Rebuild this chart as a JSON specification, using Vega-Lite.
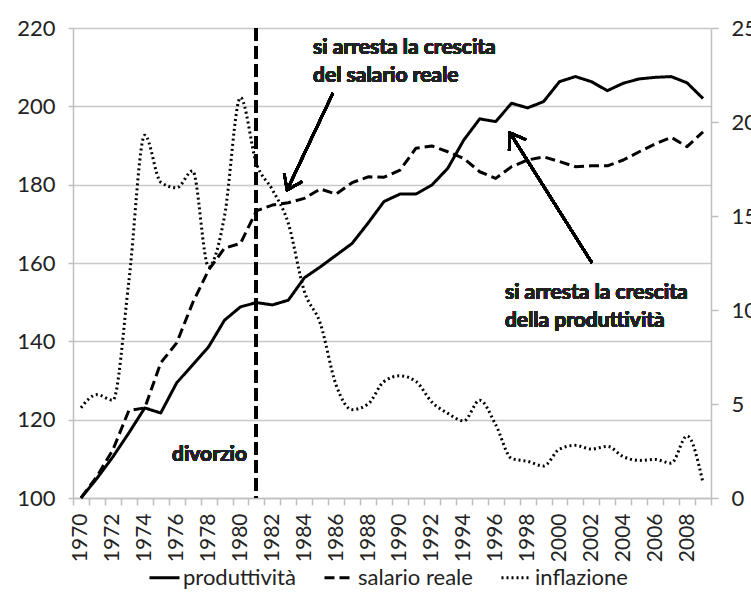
{
  "$schema": "https://vega.github.io/schema/vega-lite/v6.json",
  "width": 638,
  "height": 470,
  "autosize": {"type": "none"},
  "padding": {"left": 73, "top": 28, "right": 40, "bottom": 107},
  "background": "white",
  "config": {
    "view": {"stroke": null},
    "font": "Lato",
    "axis": {"labelFont": "Lato", "labelColor": "#222222", "title": null}
  },
  "datasets": {
    "d": [
      {"anno": 1970, "prod": 100, "sal": 100, "infl": 4.8},
      {"anno": 1971, "prod": 105, "sal": 105.5, "infl": 5.5},
      {"anno": 1972, "prod": 110.5, "sal": 112.3, "infl": 5.2},
      {"anno": 1973, "prod": 116.6, "sal": 122.3, "infl": 11.5},
      {"anno": 1974, "prod": 123, "sal": 123, "infl": 19.3},
      {"anno": 1975, "prod": 121.7, "sal": 134.5, "infl": 16.8},
      {"anno": 1976, "prod": 129.4, "sal": 139.6, "infl": 16.5},
      {"anno": 1977, "prod": 134, "sal": 149.8, "infl": 17.4},
      {"anno": 1978, "prod": 138.6, "sal": 158.2, "infl": 12.3},
      {"anno": 1979, "prod": 145.4, "sal": 163.8, "infl": 15.0},
      {"anno": 1980, "prod": 148.8, "sal": 165, "infl": 21.3},
      {"anno": 1981, "prod": 149.9, "sal": 173.3, "infl": 17.8},
      {"anno": 1982, "prod": 149.3, "sal": 174.8, "infl": 16.4},
      {"anno": 1983, "prod": 150.5, "sal": 175.4, "infl": 14.6},
      {"anno": 1984, "prod": 156.2, "sal": 176.5, "infl": 11.0},
      {"anno": 1985, "prod": 159, "sal": 178.9, "infl": 9.3},
      {"anno": 1986, "prod": 162, "sal": 177.6, "infl": 6.0},
      {"anno": 1987, "prod": 165, "sal": 180.5, "infl": 4.7},
      {"anno": 1988, "prod": 170.2, "sal": 182, "infl": 5.0},
      {"anno": 1989, "prod": 175.7, "sal": 181.9, "infl": 6.2},
      {"anno": 1990, "prod": 177.6, "sal": 183.7, "infl": 6.5},
      {"anno": 1991, "prod": 177.6, "sal": 189.3, "infl": 6.2},
      {"anno": 1992, "prod": 179.9, "sal": 189.9, "infl": 5.1},
      {"anno": 1993, "prod": 184.2, "sal": 188.4, "infl": 4.5},
      {"anno": 1994, "prod": 191.4, "sal": 186.7, "infl": 4.1},
      {"anno": 1995, "prod": 196.8, "sal": 183.3, "infl": 5.2},
      {"anno": 1996, "prod": 196.1, "sal": 181.6, "infl": 3.9},
      {"anno": 1997, "prod": 200.8, "sal": 184.6, "infl": 2.1},
      {"anno": 1998, "prod": 199.6, "sal": 186.3, "infl": 1.95},
      {"anno": 1999, "prod": 201.2, "sal": 187.1, "infl": 1.7},
      {"anno": 2000, "prod": 206.3, "sal": 185.9, "infl": 2.6},
      {"anno": 2001, "prod": 207.6, "sal": 184.6, "infl": 2.8},
      {"anno": 2002, "prod": 206.3, "sal": 184.8, "infl": 2.6},
      {"anno": 2003, "prod": 204, "sal": 184.8, "infl": 2.75},
      {"anno": 2004, "prod": 205.9, "sal": 186.3, "infl": 2.2},
      {"anno": 2005, "prod": 207, "sal": 188.4, "infl": 2.0},
      {"anno": 2006, "prod": 207.4, "sal": 190.4, "infl": 2.05},
      {"anno": 2007, "prod": 207.6, "sal": 192.1, "infl": 1.85},
      {"anno": 2008, "prod": 206, "sal": 189.7, "infl": 3.3},
      {"anno": 2009, "prod": 202, "sal": 193.5, "infl": 0.8}
    ]
  },
  "data": {"name": "d"},
  "layer": [
    {
      "transform": [{"fold": ["prod", "sal"], "as": ["serie", "v"]}],
      "mark": {"type": "line", "strokeJoin": "round"},
      "encoding": {
        "x": {
          "field": "anno", "type": "quantitative", "title": null,
          "scale": {"domain": [1969.5, 2009.5], "nice": false, "zero": false},
          "axis": {
            "orient": "bottom",
            "values": [1970, 1972, 1974, 1976, 1978, 1980, 1982, 1984, 1986, 1988, 1990, 1992, 1994, 1996, 1998, 2000, 2002, 2004, 2006, 2008],
            "format": "d", "labelAngle": -90, "labelAlign": "right", "labelBaseline": "middle",
            "ticks": false, "grid": false,
            "domain": true, "domainColor": "#bfbfbf", "domainWidth": 1.5,
            "labelPadding": 15, "labelFontSize": 21, "labelFlush": false, "labelOverlap": false, "labelBound": false
          }
        },
        "y": {
          "field": "v", "type": "quantitative", "title": null,
          "scale": {"domain": [100, 220], "nice": false, "zero": false},
          "axis": {
            "orient": "left", "values": [100, 120, 140, 160, 180, 200, 220],
            "grid": true, "gridColor": "#c8c8c8", "gridWidth": 1.5,
            "domainColor": "#bfbfbf", "domainWidth": 1.5,
            "tickColor": "#bfbfbf", "tickSize": 5, "tickWidth": 1.5, "labelPadding": 13, "labelFontSize": 22
          }
        },
        "color": {
          "field": "serie", "type": "nominal",
          "scale": {"domain": ["prod", "sal", "infl"], "range": ["black", "black", "black"]},
          "legend": {
            "orient": "none", "legendX": 75, "legendY": 533, "direction": "horizontal",
            "title": null, "symbolType": "stroke", "symbolSize": 900,
            "labelFont": "Lato", "labelFontSize": 22, "labelColor": "#222222",
            "labelOffset": 2, "columnPadding": 22,
            "labelExpr": "datum.label == 'prod' ? 'produttività' : datum.label == 'sal' ? 'salario reale' : 'inflazione'"
          }
        },
        "strokeDash": {
          "field": "serie", "type": "nominal",
          "scale": {"domain": ["prod", "sal", "infl"], "range": [[1, 0], [10, 5], [2, 3]]}
        },
        "strokeWidth": {
          "field": "serie", "type": "nominal",
          "scale": {"domain": ["prod", "sal", "infl"], "range": [3, 3, 2.2]}
        }
      }
    },
    {
      "transform": [{"fold": ["infl"], "as": ["serie", "v"]}],
      "mark": {"type": "line", "interpolate": "monotone"},
      "encoding": {
        "x": {
          "field": "anno", "type": "quantitative", "title": null,
          "axis": {
            "orient": "bottom",
            "values": [1969.5, 1970.5, 1971.5, 1972.5, 1973.5, 1974.5, 1975.5, 1976.5, 1977.5, 1978.5, 1979.5, 1980.5, 1981.5, 1982.5, 1983.5, 1984.5, 1985.5, 1986.5, 1987.5, 1988.5, 1989.5, 1990.5, 1991.5, 1992.5, 1993.5, 1994.5, 1995.5, 1996.5, 1997.5, 1998.5, 1999.5, 2000.5, 2001.5, 2002.5, 2003.5, 2004.5, 2005.5, 2006.5, 2007.5, 2008.5, 2009.5],
            "labels": false, "ticks": true, "tickSize": 7, "tickColor": "#bfbfbf", "tickWidth": 1.5,
            "domain": false, "grid": false
          }
        },
        "y": {
          "field": "v", "type": "quantitative", "title": null,
          "scale": {"domain": [0, 25], "nice": false, "zero": false},
          "axis": {
            "orient": "right", "values": [0, 5, 10, 15, 20, 25], "grid": false,
            "domainColor": "#bfbfbf", "domainWidth": 1.5, "tickColor": "#bfbfbf", "tickWidth": 1.5,
            "tickSize": 7, "labelPadding": 13, "labelFontSize": 22
          }
        },
        "color": {"field": "serie", "type": "nominal"},
        "strokeDash": {"field": "serie", "type": "nominal"},
        "strokeWidth": {"field": "serie", "type": "nominal"}
      }
    },
    {
      "layer": [
        {
          "mark": {"type": "rule", "color": "black", "strokeWidth": 3, "strokeDash": [13, 5]},
          "encoding": {"x": {"datum": 1981, "type": "quantitative", "axis": null}}
        },
        {
          "mark": {"type": "rule", "color": "black", "strokeWidth": 2.5},
          "encoding": {
            "x": {"datum": 1985.8, "type": "quantitative", "axis": null},
            "y": {"datum": 203.4, "type": "quantitative", "axis": null, "scale": {"domain": [100, 220], "nice": false, "zero": false}},
            "x2": {"datum": 1982.92},
            "y2": {"datum": 178.6}
          }
        },
        {
          "mark": {"type": "point", "shape": "M-0.7,1L0,0L0.7,1", "filled": false, "color": "black", "strokeWidth": 2.5, "size": 800, "angle": 205.4, "opacity": 1},
          "encoding": {
            "x": {"datum": 1982.92, "type": "quantitative", "axis": null},
            "y": {"datum": 178.6, "type": "quantitative", "axis": null}
          }
        },
        {
          "mark": {"type": "rule", "color": "black", "strokeWidth": 2.5},
          "encoding": {
            "x": {"datum": 2002.04, "type": "quantitative", "axis": null},
            "y": {"datum": 160.0, "type": "quantitative", "axis": null},
            "x2": {"datum": 1996.9},
            "y2": {"datum": 193.2}
          }
        },
        {
          "mark": {"type": "point", "shape": "M-0.7,1L0,0L0.7,1", "filled": false, "color": "black", "strokeWidth": 2.5, "size": 800, "angle": 327.8, "opacity": 1},
          "encoding": {
            "x": {"datum": 1996.9, "type": "quantitative", "axis": null},
            "y": {"datum": 193.2, "type": "quantitative", "axis": null}
          }
        },
        {
          "mark": {"type": "text", "text": ["si arresta la crescita", "del salario reale"], "font": "Lato", "fontWeight": "bold", "fontSize": 21, "align": "left", "baseline": "middle", "lineHeight": 28, "color": "#222222"},
          "encoding": {
            "x": {"datum": 1984.55, "type": "quantitative", "axis": null},
            "y": {"datum": 214.9, "type": "quantitative", "axis": null}
          }
        },
        {
          "mark": {"type": "text", "text": ["si arresta la crescita", "della produttività"], "font": "Lato", "fontWeight": "bold", "fontSize": 21, "align": "left", "baseline": "middle", "lineHeight": 28, "color": "#222222"},
          "encoding": {
            "x": {"datum": 1996.58, "type": "quantitative", "axis": null},
            "y": {"datum": 152.3, "type": "quantitative", "axis": null}
          }
        },
        {
          "mark": {"type": "text", "text": "divorzio", "font": "Lato", "fontWeight": "bold", "fontSize": 21, "align": "right", "baseline": "middle", "color": "#222222"},
          "encoding": {
            "x": {"datum": 1980.41, "type": "quantitative", "axis": null},
            "y": {"datum": 111.0, "type": "quantitative", "axis": null}
          }
        }
      ]
    }
  ],
  "resolve": {"scale": {"y": "independent"}, "axis": {"x": "independent"}}
}
